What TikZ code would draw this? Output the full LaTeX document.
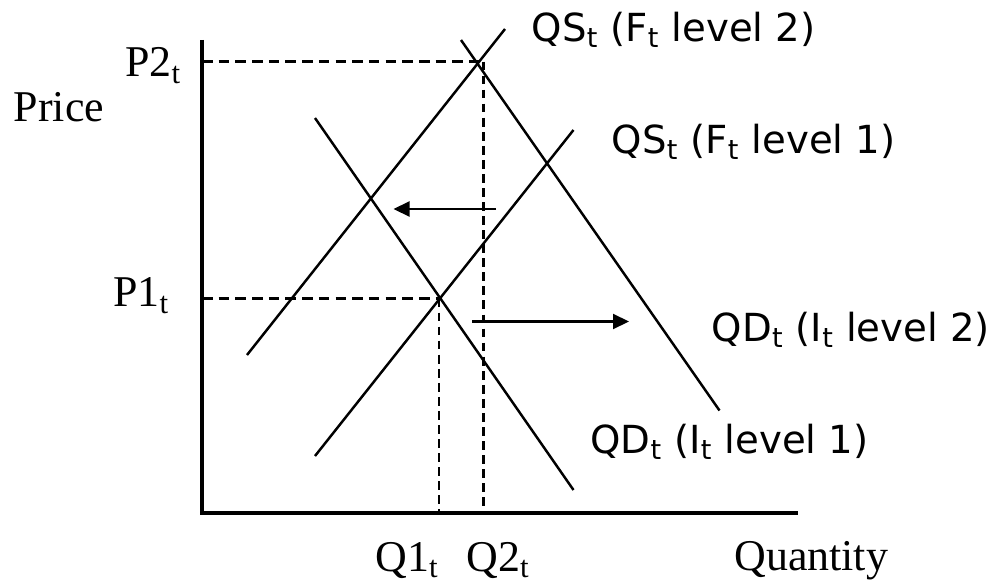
\documentclass[tikz,border=0pt]{standalone}
\usepackage{fontspec}
\setmainfont{Liberation Serif}
\newfontfamily\curvefont{DejaVu Sans}
\usepackage{tikz}
\usetikzlibrary{arrows.meta, positioning}
\newcommand{\tsub}{\textsubscript{t}}

\begin{document}
\begin{tikzpicture}[
    curve_line/.style={black, line width=1.4pt},
    axis_line/.style={black, line width=1.9pt},
    guide_dash/.style={black, line width=1.2pt, dash pattern=on 6pt off 3.5pt},
    guide_drop/.style={black, line width=1.2pt, dash pattern=on 5pt off 3pt},
    shift_arrow/.style={-{Triangle[length=3.2mm, width=3mm]}, line width=1.2pt},
    axis_label/.style={inner sep=0pt, anchor=base west, font=\fontsize{25}{30}\selectfont},
    curve_label/.style={inner sep=0pt, anchor=base west, font=\curvefont\fontsize{22}{26}\selectfont}
]
    \useasboundingbox (-4.04,-1.42) rectangle (15.96,10.26);

    % 1. AXES
    \coordinate (origin) at (0,0);
    \coordinate (ytop) at (0,9.46);
    \coordinate (xend) at (11.92,0);
    \draw[axis_line] (ytop) -- (origin) -- (xend);

    % 2. SUPPLY AND DEMAND CURVES
    \coordinate (qs2lo) at (0.90,3.16);  \coordinate (qs2hi) at (6.06,9.68);
    \coordinate (qs1lo) at (2.26,1.14);  \coordinate (qs1hi) at (7.43,7.66);
    \coordinate (qd1hi) at (2.26,7.90);  \coordinate (qd1lo) at (7.43,0.46);
    \coordinate (qd2hi) at (5.18,9.46);  \coordinate (qd2lo) at (10.35,2.05);
    \draw[curve_line] (qs2lo) -- (qs2hi);
    \draw[curve_line] (qs1lo) -- (qs1hi);
    \draw[curve_line] (qd1hi) -- (qd1lo);
    \draw[curve_line] (qd2hi) -- (qd2lo);

    % 3. EQUILIBRIUM GUIDES
    \coordinate (p2) at (0,9.03);  \coordinate (eq2) at (5.63,9.03);  \coordinate (q2) at (5.63,0);
    \coordinate (p1) at (0,4.29);  \coordinate (eq1) at (4.74,4.29);  \coordinate (q1) at (4.74,0);
    \draw[guide_dash] (p2) -- (eq2);
    \draw[guide_drop] (eq2) -- (q2);
    \draw[guide_dash] (p1) -- (eq1);
    \draw[guide_drop] (eq1) -- (q1);

    % 4. SHIFTS
    \coordinate (sfrom) at (5.88,6.08);  \coordinate (sto) at (3.83,6.08);
    \coordinate (dfrom) at (5.40,3.83);  \coordinate (dto) at (8.54,3.83);
    \draw[shift_arrow] (sfrom) -- (sto);
    \draw[shift_arrow] (dfrom) -- (dto);

    % 5. LABELS
    \node[curve_label] (lqs2) at (6.59,9.43) {QS\tsub{} (F\tsub{} level 2)};
    \node[curve_label] (lqs1) at (8.19,7.20) {QS\tsub{} (F\tsub{} level 1)};
    \node[curve_label] (lqd2) at (10.19,3.43) {QD\tsub{} (I\tsub{} level 2)};
    \node[curve_label] (lqd1) at (7.76,1.20) {QD\tsub{} (I\tsub{} level 1)};

    \node[axis_label] (lprice) at (-3.77,7.83) {Price};
    \node[axis_label] (lp2) at (-1.54,8.73) {P2\tsub};
    \node[axis_label] (lp1) at (-1.78,4.13) {P1\tsub};
    \node[axis_label] (lq1) at (3.46,-1.16) {Q1\tsub};
    \node[axis_label] (lq2) at (5.28,-1.16) {Q2\tsub};
    \node[axis_label] (lqty) at (10.64,-1.14) {Quantity};

\end{tikzpicture}
\end{document}
